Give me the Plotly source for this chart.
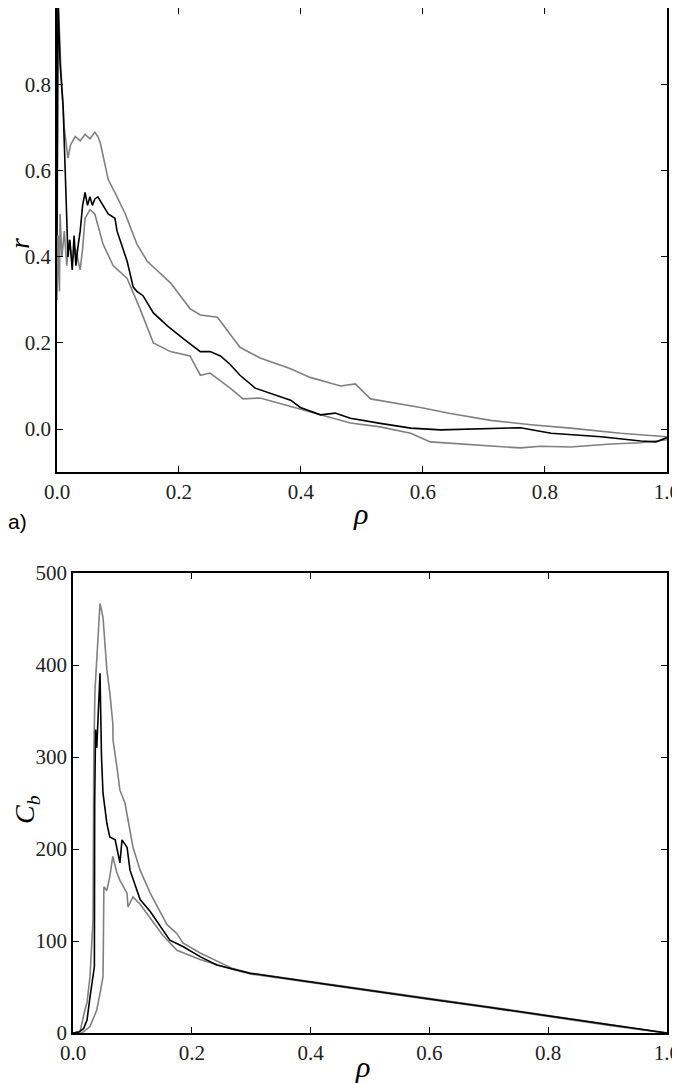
import plotly.graph_objects as go

# panel a) : r versus rho (mean and band)
rho_r_mean = [0, 0.0016, 0.005, 0.01, 0.013, 0.016, 0.018, 0.021, 0.025, 0.028, 0.031, 0.034, 0.038, 0.042,
              0.046, 0.050, 0.054, 0.058, 0.062, 0.067, 0.075, 0.084, 0.095, 0.0985, 0.115, 0.125, 0.131, 0.141,
              0.158, 0.181, 0.207, 0.235, 0.251, 0.268, 0.284, 0.30, 0.325, 0.366, 0.383, 0.399, 0.432, 0.456,
              0.481, 0.530, 0.580, 0.629, 0.678, 0.760, 0.810, 0.892, 0.957, 0.982, 1.0]
r_mean = [0.45, 1.0, 0.85, 0.75, 0.62, 0.48, 0.40, 0.44, 0.37, 0.45, 0.38, 0.42, 0.46, 0.52,
          0.55, 0.52, 0.54, 0.52, 0.535, 0.54, 0.52, 0.50, 0.49, 0.46, 0.39, 0.33, 0.32, 0.31,
          0.27, 0.24, 0.21, 0.18, 0.18, 0.17, 0.15, 0.125, 0.095, 0.075, 0.067, 0.05, 0.033, 0.037,
          0.025, 0.013, 0.002, -0.002, 0.0, 0.003, -0.01, -0.018, -0.028, -0.03, -0.02]

rho_r_hi = [0, 0.002, 0.006, 0.008, 0.012, 0.018, 0.022, 0.03, 0.038, 0.046, 0.054, 0.062, 0.067, 0.071,
            0.084, 0.0985, 0.112, 0.131, 0.148, 0.186, 0.218, 0.235, 0.263, 0.30, 0.333, 0.383, 0.415, 0.465,
            0.489, 0.514, 0.596, 0.645, 0.711, 0.777, 0.842, 0.924, 1.0]
r_hi = [0.4, 1.0, 0.85, 0.79, 0.70, 0.63, 0.66, 0.68, 0.67, 0.685, 0.675, 0.69, 0.68, 0.665,
        0.58, 0.54, 0.50, 0.43, 0.39, 0.34, 0.28, 0.265, 0.26, 0.19, 0.165, 0.14, 0.12, 0.10,
        0.105, 0.07, 0.05, 0.036, 0.02, 0.01, 0.002, -0.01, -0.018]

rho_r_lo = [0, 0.002, 0.004, 0.005, 0.008, 0.012, 0.016, 0.02, 0.025, 0.03, 0.038, 0.042, 0.046, 0.054,
            0.062, 0.071, 0.0755, 0.092, 0.115, 0.136, 0.158, 0.186, 0.218, 0.235, 0.251, 0.284, 0.305,
            0.333, 0.383, 0.432, 0.481, 0.530, 0.580, 0.612, 0.678, 0.760, 0.793, 0.842, 0.908, 0.957, 1.0]
r_lo = [0.30, 0.45, 0.32, 0.50, 0.40, 0.46, 0.38, 0.44, 0.39, 0.42, 0.37, 0.42, 0.49, 0.51,
        0.50, 0.455, 0.43, 0.38, 0.35, 0.28, 0.20, 0.18, 0.17, 0.125, 0.13, 0.095, 0.07,
        0.072, 0.052, 0.033, 0.014, 0.005, -0.01, -0.03, -0.037, -0.044, -0.04, -0.042, -0.035, -0.032, -0.025]

# panel b) : C_b versus rho
rho_c_mean = [0, 0.01, 0.018, 0.0236, 0.0286, 0.036, 0.0365, 0.038, 0.040, 0.0455, 0.048, 0.0505, 0.057,
              0.062, 0.071, 0.079, 0.0825, 0.091, 0.096, 0.113, 0.130, 0.1515, 0.163, 0.185, 0.214, 0.242,
              0.298, 0.4, 0.5, 0.6, 0.7, 0.8, 0.9, 1.0]
c_mean = [0, 1, 5, 14, 39, 72, 250, 330, 310, 391, 300, 261, 228,
          213, 210, 185, 210, 202, 177, 145, 132, 112, 101, 94, 83, 74,
          65, 55.5, 46, 37, 28, 18.5, 9, 0]

rho_c_hi = [0, 0.012, 0.02, 0.0236, 0.0286, 0.0337, 0.035, 0.037, 0.0455, 0.0505, 0.057, 0.062, 0.067,
            0.0675, 0.074, 0.079, 0.0875, 0.0926, 0.101, 0.113, 0.130, 0.1515, 0.158, 0.175, 0.185, 0.214,
            0.269, 0.3, 0.4, 0.5, 0.6, 0.7, 0.8, 0.9, 1.0]
c_hi = [0, 2, 25, 33, 61, 123, 300, 373, 467, 452, 395, 370, 337,
        318, 289, 264, 250, 231, 202, 177, 152, 126, 118, 108, 98, 87,
        70, 65, 56, 46.5, 37.5, 28.5, 19, 9.5, 0]

rho_c_lo = [0, 0.015, 0.0286, 0.040, 0.0455, 0.0505, 0.051, 0.052, 0.057, 0.062, 0.067, 0.074, 0.079,
            0.091, 0.0926, 0.101, 0.113, 0.130, 0.1515, 0.175, 0.214, 0.269, 0.3, 0.4, 0.5, 0.6, 0.7,
            0.8, 0.9, 1.0]
c_lo = [0, 0, 7, 25, 43, 61, 87, 159, 155, 170, 192, 174, 166,
        152, 137, 148, 140, 125, 106, 90, 80, 69, 64, 55, 45.5, 36.5, 27.5,
        18, 8.5, 0]

x_ticks = [0, 0.2, 0.4, 0.6, 0.8, 1.0]
r_ticks = [0.0, 0.2, 0.4, 0.6, 0.8]
c_ticks = [0, 100, 200, 300, 400, 500]

# the page body has an 8px margin, so the figure is shrunk and shifted by that
OFF = 8
W, H = 680 - OFF, 1083 - OFF
GRAY = '#808080'
serif = 'Liberation Serif'


def px(x):
    return (x - OFF) / W


def py(y):
    return 1 - (y - OFF) / H


fig = go.Figure()

# top panel, gray band first then black mean on top
for xs, ys, col in [(rho_r_hi, r_hi, GRAY), (rho_r_lo, r_lo, GRAY), (rho_r_mean, r_mean, 'black')]:
    fig.add_trace(go.Scatter(x=xs, y=ys, mode='lines', line=dict(color=col, width=1.6),
                             xaxis='x', yaxis='y', showlegend=False))

for xs, ys, col in [(rho_c_hi, c_hi, GRAY), (rho_c_lo, c_lo, GRAY), (rho_c_mean, c_mean, 'black')]:
    fig.add_trace(go.Scatter(x=xs, y=ys, mode='lines', line=dict(color=col, width=1.6),
                             xaxis='x2', yaxis='y2', showlegend=False))

axis_style = dict(showline=True, linecolor='black', linewidth=1.5, mirror='allticks',
                  ticks='inside', ticklen=6, tickwidth=1, tickcolor='black',
                  showgrid=False, zeroline=False, automargin=False, ticklabeloverflow='allow',
                  tickfont=dict(family=serif, size=21, color='#222'))

# top of the page is cut by the body margin: the frame sits at r = 0.979 instead of 1.0
fig.update_layout(
    template='none',
    width=W, height=H,
    margin=dict(l=0, r=0, t=0, b=0),
    font=dict(family=serif),
    plot_bgcolor='white', paper_bgcolor='white',
    xaxis=dict(domain=[px(57), px(667)], range=[0, 1.0001], tickvals=x_ticks, tickformat='.1f',
               anchor='y', **axis_style),
    yaxis=dict(domain=[py(472), 1.0], range=[-0.1, 0.979], tickvals=r_ticks, tickformat='.1f',
               anchor='x', **axis_style),
    xaxis2=dict(domain=[px(73), px(667)], range=[0, 1.0001], tickvals=x_ticks, tickformat='.1f',
                anchor='y2', **axis_style),
    yaxis2=dict(domain=[py(1033), py(573)], range=[0, 500.1], tickvals=c_ticks,
                anchor='x2', **axis_style),
)


def label(text, x, y, size, angle=0, family=serif):
    fig.add_annotation(text=text, x=px(x), y=py(y), xref='paper', yref='paper',
                       showarrow=False, textangle=angle, xanchor='center', yanchor='middle',
                       font=dict(family=family, size=size, color='black'))


label('<i>ρ</i>', 360, 513, 30)
label('<i>r</i>', 20, 244, 28, angle=-90)
label('a)', 17, 521, 21, family='Liberation Sans')
label('<i>ρ</i>', 362, 1066, 30)
label('<i>C</i><sub><i>b</i></sub>', 26, 810, 28, angle=-90)

fig.write_html("out.html")
